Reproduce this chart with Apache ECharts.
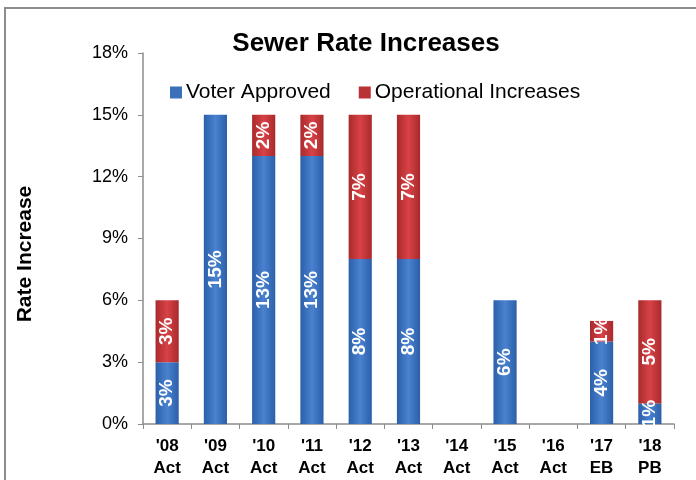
<!DOCTYPE html>
<html>
<head>
<meta charset="utf-8">
<script src="https://cdn.jsdelivr.net/npm/echarts@6/dist/echarts.min.js"></script>
<style>
html,body{margin:0;padding:0;background:#fff;}
#c{width:696px;height:480px;}
</style>
</head>
<body>
<div id="c"></div>
<script>
const categories = ["'08\nAct","'09\nAct","'10\nAct","'11\nAct","'12\nAct","'13\nAct","'14\nAct","'15\nAct","'16\nAct","'17\nEB","'18\nPB"];
const voterApproved = [3, 15, 13, 13, 8, 8, null, 6, null, 4, 1];
const operational = [3, null, 2, 2, 7, 7, null, null, null, 1, 5];
const yTicks = [0, 3, 6, 9, 12, 15, 18];

const blueGrad = new echarts.graphic.LinearGradient(0,0,1,0,[
  {offset:0,color:'#2b5fa8'},{offset:0.5,color:'#4a82d0'},{offset:1,color:'#2b5fa8'}]);
const redGrad = new echarts.graphic.LinearGradient(0,0,1,0,[
  {offset:0,color:'#a82a2c'},{offset:0.5,color:'#d84246'},{offset:1,color:'#a82a2c'}]);

const labelCfg = {
  show:true, position:'inside', rotate:90, color:'#fff',
  fontFamily:'Liberation Sans, Arial', fontWeight:'bold', fontSize:19,
  formatter: p => p.value + '%'
};

const chart = echarts.init(document.getElementById('c'));
chart.setOption({
  animation:false,
  title:{text:'Sewer Rate Increases', left:361, top:26, textAlign:'center',
    textStyle:{fontFamily:'Liberation Sans, Arial', fontWeight:'bold', fontSize:26, color:'#000'}},
  legend:{
    top:77, left:165, itemWidth:12, itemHeight:12, itemGap:28, icon:'rect',
    textStyle:{fontFamily:'Liberation Sans, Arial', fontSize:21, color:'#000', padding:[0,0,0,-1]},
    data:[{name:'Voter Approved', itemStyle:{color:'#3b6fb8'}},{name:'Operational Increases', itemStyle:{color:'#b83236'}}]
  },
  graphic:[
    {type:'rect', shape:{x:5,y:8,width:700,height:480}, style:{fill:'none', stroke:'#8c8c8c', lineWidth:2}, silent:true},
    {type:'text', x:25, y:254, rotation:Math.PI/2, silent:true,
      style:{text:'Rate Increase', fill:'#000', font:'bold 21px "Liberation Sans", Arial', align:'center', verticalAlign:'middle'}}
  ],
  grid:{left:143, right:22, top:53, bottom:56},
  xAxis:{
    type:'category', data:categories,
    axisLine:{lineStyle:{color:'#8c8c8c', width:1.5}},
    axisTick:{show:true, length:5, lineStyle:{color:'#8c8c8c'}},
    axisLabel:{fontFamily:'Liberation Sans, Arial', fontWeight:'bold', fontSize:17, color:'#000', lineHeight:22, margin:11, interval:0}
  },
  yAxis:{
    type:'value', min:0, max:18, interval:3,
    axisLine:{show:true, lineStyle:{color:'#8c8c8c', width:1.5}},
    axisTick:{show:true, length:5, lineStyle:{color:'#8c8c8c'}},
    splitLine:{show:false},
    axisLabel:{fontFamily:'Liberation Sans, Arial', fontSize:18, color:'#000', margin:15,
      formatter: v => yTicks.includes(v) ? v + '%' : ''}
  },
  series:[
    {name:'Voter Approved', type:'bar', stack:'a', data:voterApproved, barWidth:'48%',
      itemStyle:{color:blueGrad}, label:labelCfg},
    {name:'Operational Increases', type:'bar', stack:'a', data:operational, barWidth:'48%',
      itemStyle:{color:redGrad}, label:labelCfg}
  ]
});
</script>
</body>
</html>
